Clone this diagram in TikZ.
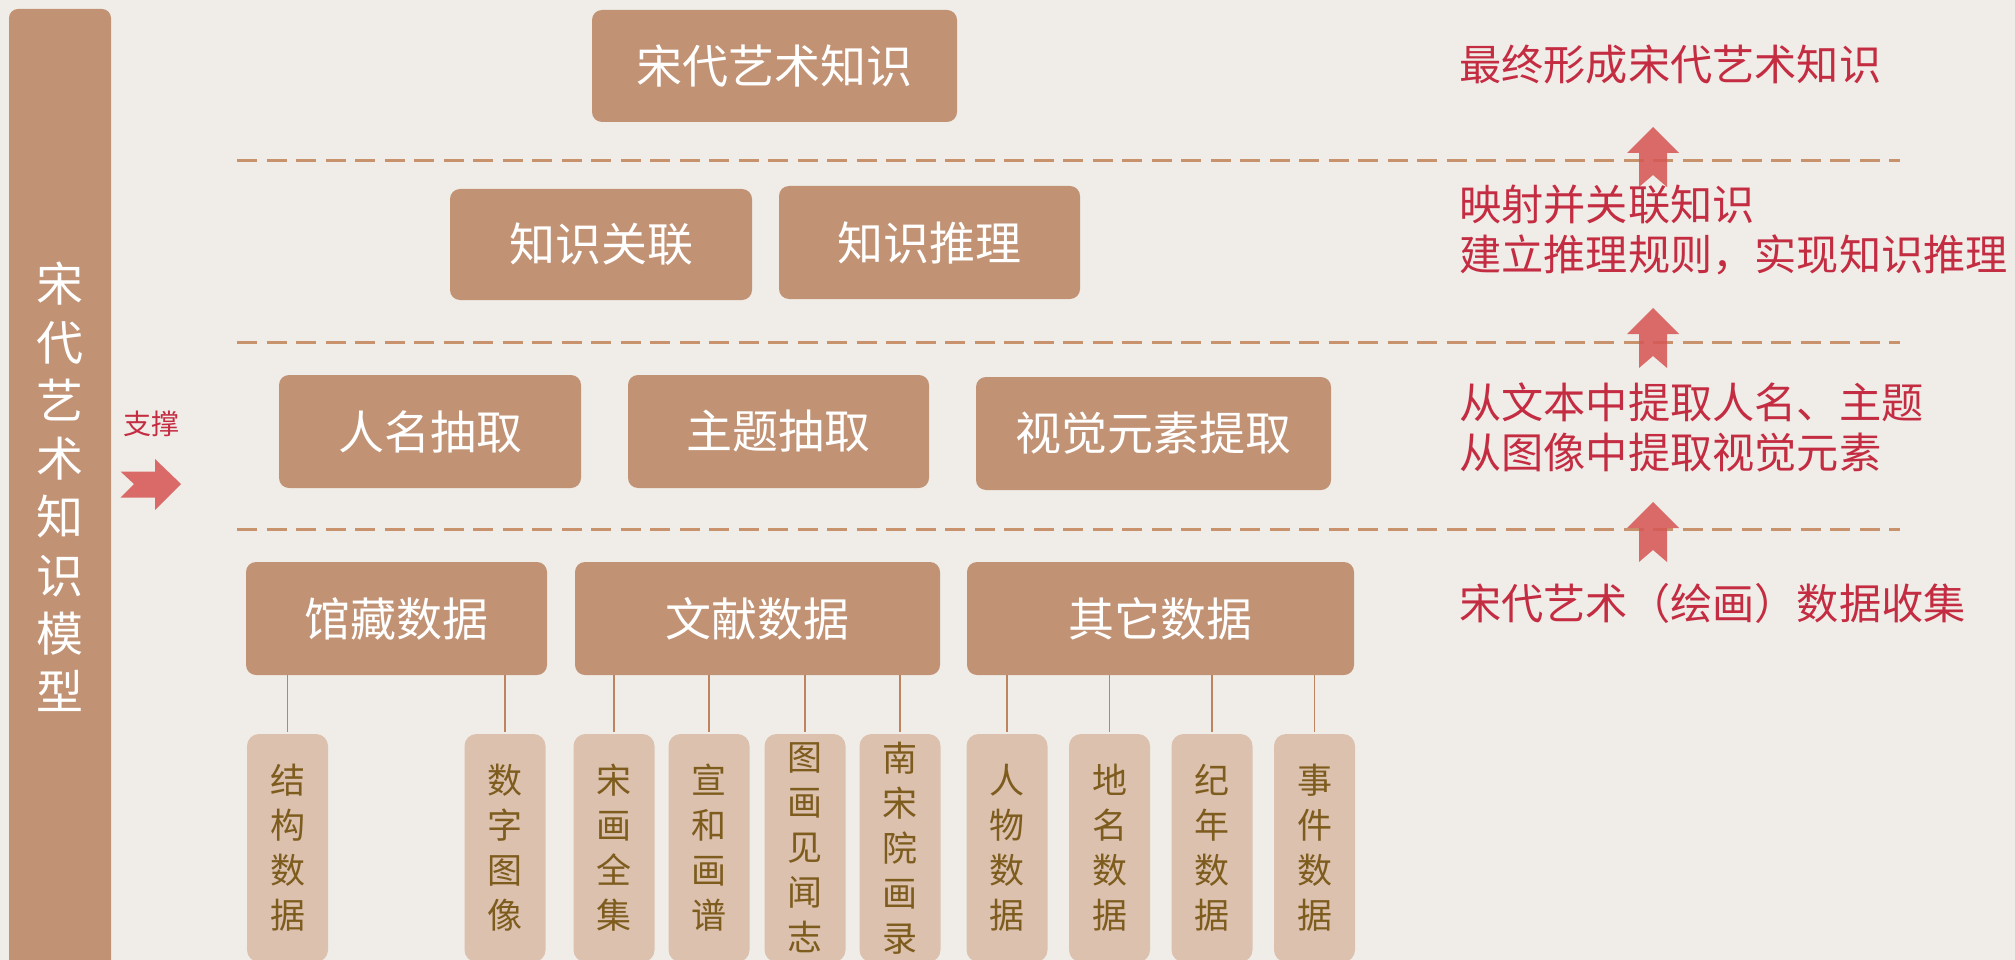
\documentclass[tikz,border=0pt]{standalone}
\usepackage{fontspec}
\newfontfamily\cjk{Noto Sans CJK SC}
\definecolor{bgc}{RGB}{240,237,232}
\definecolor{boxfill}{RGB}{193,146,116}
\definecolor{lightfill}{RGB}{219,193,174}
\definecolor{dashc}{RGB}{200,146,108}
\definecolor{connc}{RGB}{190,132,96}
\definecolor{smalltext}{RGB}{125,92,30}
\definecolor{redtext}{RGB}{196,44,66}
\definecolor{arrowc}{RGB}{214,88,86}
\begin{document}
\begin{tikzpicture}[x=1pt,y=-1pt,
  bigbox/.style={fill=boxfill, rounded corners=10pt, text=white, inner sep=0pt,
    font=\cjk\fontsize{46}{50}\selectfont},
  smallbox/.style={fill=lightfill, rounded corners=12pt, minimum width=81pt,
    minimum height=228pt, text=smalltext, align=center, inner sep=0pt,
    font=\cjk\fontsize{35}{45}\selectfont},
  conn/.style={draw=connc, line width=1.5pt},
  sepline/.style={draw=dashc, line width=3pt, dash pattern=on 20pt off 9.5pt},
  redlabel/.style={text=redtext, anchor=west, align=left, inner sep=0pt,
    font=\cjk\fontsize{42.2}{50.5}\selectfont},
  arrowshape/.style={fill=arrowc, fill opacity=0.88}]
\clip (0,0) rectangle (2015,960);
\fill[bgc] (0,0) rectangle (2015,960);

% left bar
\path[fill=boxfill, rounded corners=9pt] (9,9) rectangle (111,990);
\node[text=white, align=center, inner sep=0pt, font=\cjk\fontsize{47}{58.3}\selectfont]
  (model) at (60,487) {宋\\代\\艺\\术\\知\\识\\模\\型};

% support label and arrow
\node[text=redtext, inner sep=0pt, font=\cjk\fontsize{28}{30}\selectfont] (support) at (151,424) {支撑};
\fill[arrowshape] (181,484) -- (155,459) -- (155,471.5) -- (120.5,471.5) -- (134,484)
  -- (120.5,497.5) -- (155,497.5) -- (155,510) -- cycle;

% separators
\draw[sepline] (237,160.5) -- (1900,160.5);
\draw[sepline] (237,342) -- (1900,342);
\draw[sepline] (237,529) -- (1900,529);

% level 4
\node[bigbox, minimum width=365pt, minimum height=112pt] (top) at (774.5,66) {宋代艺术知识};
% level 3
\node[bigbox, minimum width=302pt, minimum height=111pt] (assoc) at (601,244.5) {知识关联};
\node[bigbox, minimum width=301pt, minimum height=113pt] (infer) at (929.5,242.5) {知识推理};
% level 2
\node[bigbox, minimum width=302pt, minimum height=113pt] (pname) at (430,431.5) {人名抽取};
\node[bigbox, minimum width=301pt, minimum height=113pt] (theme) at (778.5,431.5) {主题抽取};
\node[bigbox, minimum width=355pt, minimum height=113pt] (visual) at (1153.5,433.5) {视觉元素提取};
% level 1
\node[bigbox, minimum width=301pt, minimum height=113pt] (coll) at (396.5,618.5) {馆藏数据};
\node[bigbox, minimum width=365pt, minimum height=113pt] (lit) at (757.5,618.5) {文献数据};
\node[bigbox, minimum width=387pt, minimum height=113pt] (other) at (1160.5,618.5) {其它数据};

% small boxes
\node[smallbox] (s1) at (287.5,848) {结\\构\\数\\据};
\node[smallbox] (s2) at (505,848) {数\\字\\图\\像};
\node[smallbox] (s3) at (614,848) {宋\\画\\全\\集};
\node[smallbox] (s4) at (709,848) {宣\\和\\画\\谱};
\node[smallbox] (s5) at (805,848) {图\\画\\见\\闻\\志};
\node[smallbox] (s6) at (900,848) {南\\宋\\院\\画\\录};
\node[smallbox] (s7) at (1007,848) {人\\物\\数\\据};
\node[smallbox] (s8) at (1109.5,848) {地\\名\\数\\据};
\node[smallbox] (s9) at (1212,848) {纪\\年\\数\\据};
\node[smallbox] (s10) at (1314.5,848) {事\\件\\数\\据};

% connectors
\foreach \c/\p in {s1/coll,s2/coll,s3/lit,s4/lit,s5/lit,s6/lit,s7/other,s8/other,s9/other,s10/other}
  \draw[conn] ([yshift=2pt]\c.north) -- (\c.north |- \p.south);

% right arrows
\foreach \t in {127,308,502}
  \fill[arrowshape, shift={(1653,\t)}] (0,0) -- (26,26) -- (14,26) -- (14,60) -- (0,48)
    -- (-14,60) -- (-14,26) -- (-26,26) -- cycle;

% right labels
\node[redlabel] (r1) at (1459,65) {最终形成宋代艺术知识};
\node[redlabel] (r2) at (1459,230) {映射并关联知识\\建立推理规则，实现知识推理};
\node[redlabel] (r3) at (1459,427.5) {从文本中提取人名、主题\\从图像中提取视觉元素};
\node[redlabel] (r4) at (1459,603) {宋代艺术（绘画）数据收集};
\end{tikzpicture}
\end{document}
